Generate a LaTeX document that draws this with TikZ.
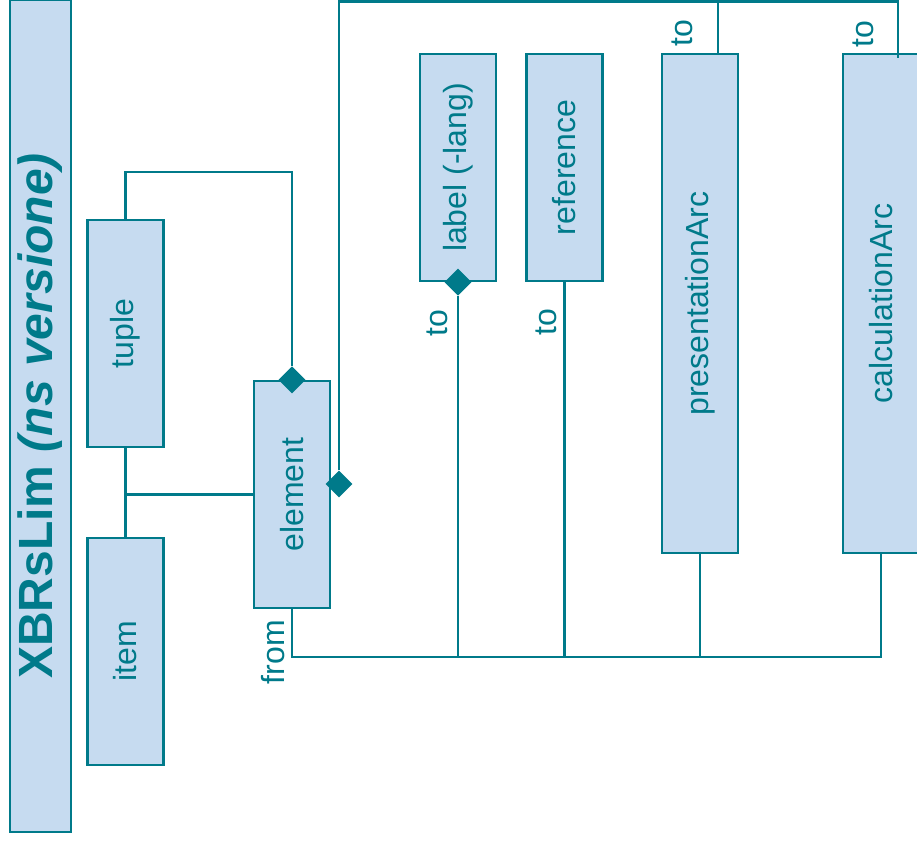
\documentclass[tikz,border=0pt]{standalone}
\usepackage{fontspec}
\setmainfont{Liberation Sans}
\usetikzlibrary{calc}
\usetikzlibrary{shapes.geometric}
\definecolor{xteal}{RGB}{0,122,138}
\definecolor{xfill}{RGB}{198,219,240}

\begin{document}
\begin{tikzpicture}[x=1pt,y=-1pt,
  cls/.style={draw=xteal, fill=xfill, line width=2.2pt, inner sep=0, minimum width=76pt, text=xteal, font=\fontsize{32}{38}\selectfont},
  dia/.style={diamond, fill=xteal, inner sep=0, minimum size=27pt},
  role/.style={rotate=90, text=xteal, inner sep=0, font=\fontsize{32}{38}\selectfont},
  link/.style={draw=xteal, line width=2.2pt}]
\useasboundingbox (0,0) rectangle (917,848);
\clip (0,0) rectangle (917,848);

% title bar
\node[cls, minimum width=61pt, minimum height=832pt] (title) at (40.5,416)
  {\rotatebox{90}{\fontsize{48}{56}\selectfont\bfseries XBRsLim \itshape(ns versione)}};

% classes
\foreach \nm/\txt/\x/\y/\h in {tuple/tuple/125.5/333.5/227, item/item/125.5/651.5/227,
  element/element/292/494.5/227, lbl/label (-lang)/458/167.5/227, ref/reference/564.5/167.5/227,
  pres/presentationArc/700/303.5/499, calc/calculationArc/881/303.5/499} {
  \node[cls, minimum height=\h pt] (\nm) at (\x,\y) {\rotatebox{90}{\txt}};
}

% aggregation marks
\node[dia] (dtop) at (element.north) {};
\node[dia] (dlbl) at (lbl.south) {};
\node[dia] (dside) at (339,484) {};

% tuple / item / element
\draw[link] (tuple.north) -- ++(0,-47) -| (dtop.north);
\draw[link] (tuple.south) -- (item.north);
\draw[link] (tuple.south |- element.west) -- (element.west);

% from
\draw[link] (element.south) -- ++(0,48) coordinate (bus) -| (calc.south);
\foreach \nm in {dlbl,ref,pres} {
  \draw[link] (\nm.south) -- (\nm.south |- bus);
}

% to
\draw[link] (dside.north) -- (339,1.5) coordinate (top) -| ([xshift=18]pres.north);
\draw[link] ([xshift=18]pres.north |- top) -| ([xshift=17,yshift=-5]calc.north);

% role names
\node[role] (rfrom) at (273,652) {from};
\node[role] (rlbl) at (437,323) {to};
\node[role] (rref) at (546,322) {to};
\node[role] (rpres) at (682,33) {to};
\node[role] (rcalc) at (863,34) {to};
\end{tikzpicture}
\end{document}
